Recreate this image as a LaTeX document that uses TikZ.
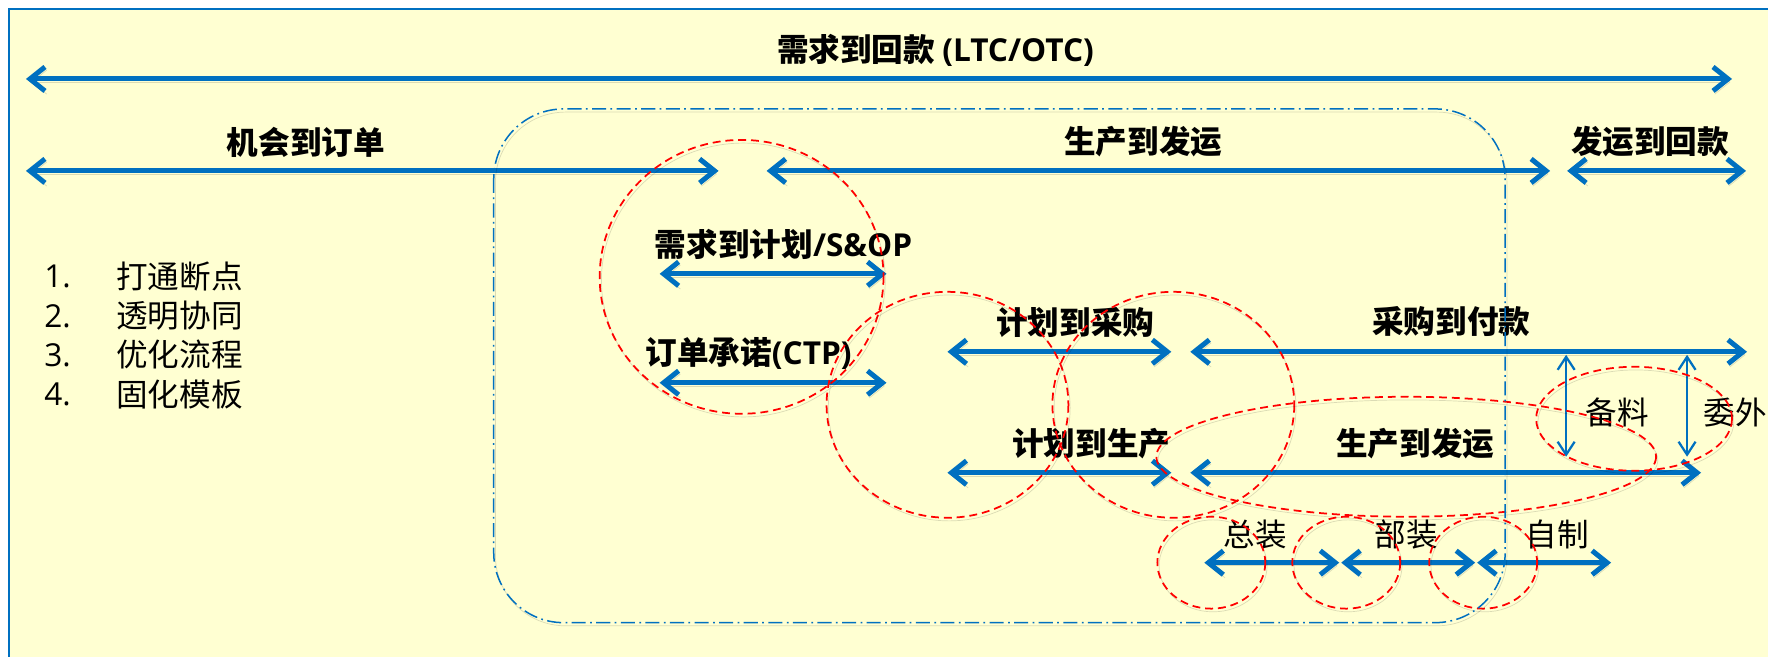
\documentclass[tikz,border=0pt]{standalone}
\usepackage{fontspec}
\usetikzlibrary{arrows.meta}
\newfontfamily\cjk{Noto Sans CJK SC}
\newfontfamily\lat{Open Sans}
\definecolor{paper}{RGB}{255,255,210}
\definecolor{flowblue}{RGB}{0,112,192}
\definecolor{zonered}{RGB}{255,0,0}

\begin{document}
\begin{tikzpicture}[x=0.02cm,y=-0.02cm,
  cast/.style={preaction={draw=black,draw opacity=0.14,transform canvas={shift={(1pt,-1.8pt)}}}},
  flowline/.style={{Straight Barb[length=0.3cm,width=0.48cm]}-{Straight Barb[length=0.3cm,width=0.48cm]},
    draw=flowblue,line width=0.1cm,cast},
  thinflow/.style={{Straight Barb[length=0.26cm,width=0.34cm]}-{Straight Barb[length=0.26cm,width=0.34cm]},
    draw=flowblue,line width=0.045cm},
  boldtxt/.style={inner sep=0pt,font=\cjk\bfseries\fontsize{18}{22}\selectfont},
  plaintxt/.style={inner sep=0pt,font=\cjk\fontsize{18}{22}\selectfont},
  zone/.style={draw=zonered,line width=0.035cm,dash pattern=on 4.5pt off 2.8pt,cast},
  hull/.style={draw=flowblue,line width=0.03cm,rounded corners=1.4cm,
    dash pattern=on 8pt off 2.5pt on 1pt off 2.5pt,cast}]

% paper and frame
\fill[white] (0,0) rectangle (1769,657);
\fill[paper] (9,9) rectangle (1769,657);
\draw[flowblue,line width=0.04cm] (1769,9) -- (9,9) -- (9,657);
\useasboundingbox (0,0) rectangle (1769,657);

% end points of the spans
\coordinate (ltcL) at (26,79);    \coordinate (ltcR) at (1733,79);
\coordinate (otoL) at (26,171);   \coordinate (otoR) at (719,171);
\coordinate (ptdL) at (767,171);  \coordinate (ptdR) at (1551,171);
\coordinate (dtcL) at (1568,171); \coordinate (dtcR) at (1747,171);
\coordinate (sopL) at (660,274);  \coordinate (sopR) at (887,274);
\coordinate (ctpL) at (660,383);  \coordinate (ctpR) at (887,383);
\coordinate (ppL) at (948,352);   \coordinate (ppR) at (1172,352);
\coordinate (payL) at (1191,352); \coordinate (payR) at (1748,352);
\coordinate (pmL) at (948,473);   \coordinate (pmR) at (1172,473);
\coordinate (mdL) at (1191,473);  \coordinate (mdR) at (1702,473);
\coordinate (blT) at (1567,355);  \coordinate (blB) at (1567,457);
\coordinate (wwT) at (1688,355);  \coordinate (wwB) at (1688,457);
\coordinate (zzL) at (1205,563);  \coordinate (zzR) at (1340,563);
\coordinate (bzL) at (1342,563);  \coordinate (bzR) at (1476,563);
\coordinate (zcL) at (1478,563);  \coordinate (zcR) at (1612,563);

\draw[flowline] (ltcL) -- (ltcR);
\draw[flowline] (otoL) -- (otoR);
\draw[flowline] (ptdL) -- (ptdR);
\draw[flowline] (dtcL) -- (dtcR);
\draw[flowline] (sopL) -- (sopR);
\draw[flowline] (ctpL) -- (ctpR);
\draw[flowline] (ppL) -- (ppR);
\draw[flowline] (payL) -- (payR);
\draw[flowline] (pmL) -- (pmR);
\draw[flowline] (mdL) -- (mdR);
\draw[flowline] (zzL) -- (zzR);
\draw[flowline] (bzL) -- (bzR);
\draw[flowline] (zcL) -- (zcR);
\draw[thinflow] (blT) -- (blB);
\draw[thinflow] (wwT) -- (wwB);

% labels
\node[boldtxt] (ltc) at (936,50) {需求到回款 {\lat(LTC/OTC)}};
\node[boldtxt] (oto) at (306,142) {机会到订单};
\node[boldtxt] (ptd) at (1144,142) {生产到发运};
\node[boldtxt] (dtc) at (1651,142) {发运到回款};
\node[boldtxt] (sop) at (784,245) {需求到计划{\lat/S\&OP}};
\node[boldtxt] (ctp) at (749,354) {订单承诺{\lat(CTP)}};
\node[boldtxt] (pp) at (1076,323) {计划到采购};
\node[boldtxt] (pay) at (1452,322) {采购到付款};
\node[boldtxt] (pm) at (1092,444) {计划到生产};
\node[boldtxt] (md) at (1416,444) {生产到发运};
\node[plaintxt] (bl) at (1618,413) {备料};
\node[plaintxt] (ww) at (1736,413) {委外};
\node[plaintxt] (zz) at (1256,535) {总装};
\node[plaintxt] (bz) at (1407,535) {部装};
\node[plaintxt] (zc) at (1558,535) {自制};

% goals
\node[plaintxt,anchor=west] (n1) at (44,277) {\lat 1.};
\node[plaintxt,anchor=west] (g1) at (116,277) {打通断点};
\node[plaintxt,anchor=west] (n2) at (44,316) {\lat 2.};
\node[plaintxt,anchor=west] (g2) at (116,316) {透明协同};
\node[plaintxt,anchor=west] (n3) at (44,355) {\lat 3.};
\node[plaintxt,anchor=west] (g3) at (116,355) {优化流程};
\node[plaintxt,anchor=west] (n4) at (44,395) {\lat 4.};
\node[plaintxt,anchor=west] (g4) at (116,395) {固化模板};

% red dashed zones
\draw[zone] (742,277) ellipse (142 and 137);
\draw[zone] (948,405) ellipse (121 and 113);
\draw[zone] (1174,405) ellipse (121 and 113);
\draw[zone] (1407,457) ellipse (250 and 60);
\draw[zone] (1635,419) ellipse (98 and 52);
\draw[zone] (1212,563) ellipse (54 and 46);
\draw[zone] (1347,563) ellipse (54 and 46);
\draw[zone] (1484,563) ellipse (54 and 46);

% blue dash-dot box
\draw[hull] (494,109) rectangle (1506,623);
\end{tikzpicture}
\end{document}
